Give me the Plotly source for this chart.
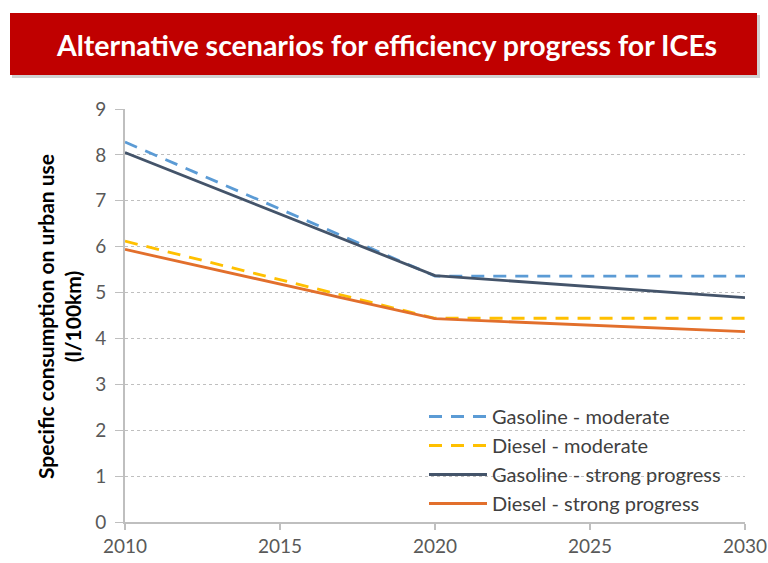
import plotly.graph_objects as go

years = [2010, 2020, 2030]
gasoline_moderate = [8.28, 5.36, 5.36]
diesel_moderate = [6.12, 4.44, 4.44]
gasoline_strong = [8.05, 5.37, 4.89]
diesel_strong = [5.94, 4.43, 4.15]

series = [
    ("Gasoline - moderate", gasoline_moderate, "#5B9BD5", "13px,9px"),
    ("Diesel - moderate", diesel_moderate, "#FFC000", "13px,9px"),
    ("Gasoline - strong progress", gasoline_strong, "#44546A", "solid"),
    ("Diesel - strong progress", diesel_strong, "#E26F2C", "solid"),
]

title_text = "Alternative scenarios for efficiency progress for ICEs"
y_title = "Specific consumption on urban use<br>(l/100km)"
x_ticks = [2010, 2015, 2020, 2025, 2030]
y_ticks = list(range(0, 10))

fig = go.Figure()
for name, vals, color, dash in series:
    fig.add_trace(go.Scatter(
        x=years, y=vals, name=name, mode="lines",
        line=dict(color=color, width=2.8, dash=dash),
    ))

L, R, T, B = 125, 23, 109, 41
W, H = 768, 563
pw, ph = W - L - R, H - T - B

def px_x(px):
    return (px - L) / pw

def px_y(py):
    return (H - B - py) / ph

# shadow + red title box
fig.add_shape(type="rect", xref="paper", yref="paper",
              x0=px_x(12), x1=px_x(760), y0=px_y(78), y1=px_y(15),
              fillcolor="rgba(0,0,0,0.18)", line=dict(width=0), layer="below")
fig.add_shape(type="rect", xref="paper", yref="paper",
              x0=px_x(10), x1=px_x(757), y0=px_y(75), y1=px_y(13),
              fillcolor="#C00000", line=dict(width=0), layer="above")
fig.add_annotation(text="<b>" + title_text + "</b>", xref="paper", yref="paper",
                   x=px_x(386), y=px_y(45), xanchor="center", yanchor="middle",
                   showarrow=False, font=dict(family="Lato", size=28.5, color="white"))

fig.add_annotation(text="<b>" + y_title + "</b>", xref="paper", yref="paper",
                   x=px_x(59), y=px_y(317), xanchor="center", yanchor="middle",
                   textangle=-90, showarrow=False,
                   font=dict(family="Lato", size=21, color="black"))

fig.update_layout(
    width=W, height=H,
    margin=dict(l=L, r=R, t=T, b=B, autoexpand=False),
    paper_bgcolor="white", plot_bgcolor="white",
    showlegend=True,
    legend=dict(x=px_x(424), y=px_y(397), xanchor="left", yanchor="top",
                bgcolor="rgba(0,0,0,0)", itemwidth=58, tracegroupgap=0,
                font=dict(family="Lato", size=20, color="#404040")),
    xaxis=dict(range=[2010, 2030], tickvals=x_ticks, showgrid=False,
               showline=True, linecolor="#BFBFBF", linewidth=2,
               ticks="outside", ticklen=6, tickcolor="#BFBFBF", tickwidth=1.5,
               tickfont=dict(family="Lato", size=19, color="#595959"), zeroline=False),
    yaxis=dict(range=[0, 9], tickvals=y_ticks, showgrid=True,
               gridcolor="#BFBFBF", griddash="dot", gridwidth=1.2,
               showline=True, linecolor="#BFBFBF", linewidth=2,
               ticks="outside", ticklen=8, tickcolor="#BFBFBF", tickwidth=1,
               ticklabelstandoff=5,
               tickfont=dict(family="Lato", size=19, color="#595959"), zeroline=False),
)

fig.write_html("out.html", config={"displayModeBar": False},
               post_script="document.body.style.margin='0';document.body.style.overflow='hidden';")
